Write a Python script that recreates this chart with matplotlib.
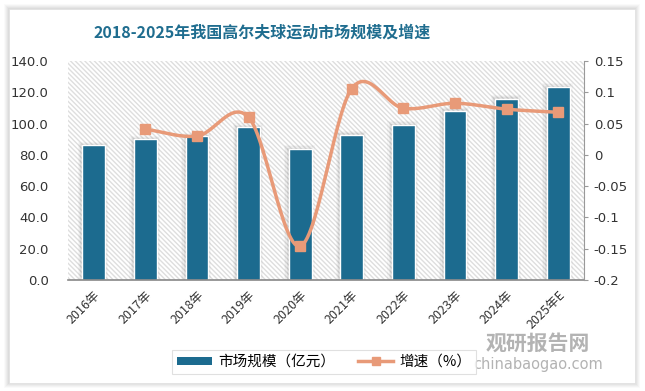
import numpy as np
import matplotlib
matplotlib.use("Agg")
import matplotlib.pyplot as plt
from matplotlib.patches import Rectangle
from matplotlib.lines import Line2D
from matplotlib.patches import Patch

plt.rcParams['font.family'] = ['Noto Sans CJK SC', 'DejaVu Sans']

categories = ['2016年', '2017年', '2018年', '2019年', '2020年', '2021年', '2022年', '2023年', '2024年', '2025年E']
market_size = [86.0, 90.0, 92.0, 98.0, 84.0, 93.0, 99.3, 108.3, 116.0, 123.6]
growth = [np.nan, 0.041, 0.030, 0.060, -0.146, 0.106, 0.0745, 0.0825, 0.073, 0.068]
left_ticks = [0, 20, 40, 60, 80, 100, 120, 140]
right_ticks = [-0.2, -0.15, -0.1, -0.05, 0, 0.05, 0.1, 0.15]
right_labels = ['-0.2', '-0.15', '-0.1', '-0.05', '0', '0.05', '0.1', '0.15']

W, H = 645, 391
fig = plt.figure(figsize=(W / 100, H / 100), dpi=100)
fig.patch.set_facecolor('white')

# card with soft shadow
for i, a in enumerate([0.04, 0.05, 0.06, 0.07, 0.08]):
    d = 5 - i
    fig.patches.append(Rectangle(((9 - d) / W, (8 - d) / H), (626 + 2 * d) / W, (374 + 2 * d) / H,
                                 transform=fig.transFigure, facecolor='#808080', alpha=a,
                                 edgecolor='none', zorder=0))
fig.patches.append(Rectangle((9 / W, 8 / H), 626 / W, 374 / H, transform=fig.transFigure,
                             facecolor='white', edgecolor='#e0e0e0', lw=0.5, zorder=0.5))

ax_l, ax_r, ax_t, ax_b = 68, 584, 61, 280
ax = fig.add_axes([ax_l / W, 1 - ax_b / H, (ax_r - ax_l) / W, (ax_b - ax_t) / H])
ax.set_zorder(1)
plt.rcParams['hatch.linewidth'] = 0.5
ax.patch.set_facecolor('white')
ax.patch.set_edgecolor('#dedede')
ax.patch.set_hatch('\\\\\\\\\\\\\\')
ax.patch.set_linewidth(0)

x = np.arange(len(categories))
bw = 0.44
# shadows
for xi, v in zip(x, market_size):
    for k, a in enumerate([0.04, 0.06, 0.09]):
        e = (3 - k) * 0.025
        ax.add_patch(Rectangle((xi - bw / 2 - e - 0.015, 0), bw + 2 * e, v + (3 - k) * 0.7,
                               facecolor='#555555', alpha=a, edgecolor='none', zorder=1))
ax.bar(x, market_size, width=bw, color='#1c6b8f', edgecolor='white', linewidth=1.0, zorder=2)

ax.set_xlim(-0.5, len(categories) - 0.5)
ax.set_ylim(0, 140)
ax.set_yticks(left_ticks)
ax.set_yticklabels([f'{t:.1f}' for t in left_ticks], fontsize=9.5, color='#333333', family='DejaVu Sans')
ax.set_xticks(x)
ax.set_xticklabels(categories, rotation=45, ha='right', va='top', rotation_mode='anchor',
                   fontsize=9, color='#333333')
ax.tick_params(axis='x', length=0, pad=6)
ax.tick_params(axis='y', length=0, pad=14)
for s in ['top', 'right', 'left']:
    ax.spines[s].set_visible(False)
ax.spines['bottom'].set_color('#888888')
ax.spines['bottom'].set_linewidth(1.2)

ax2 = ax.twinx()
ax2.set_ylim(-0.2, 0.15)
ax2.set_yticks(right_ticks)
ax2.set_yticklabels(right_labels, fontsize=9.5, color='#333333', family='DejaVu Sans')
for s in ['top', 'left', 'bottom']:
    ax2.spines[s].set_visible(False)
ax2.spines['right'].set_color('#999999')
ax2.tick_params(axis='y', direction='out', length=3, color='#999999', pad=4)

# smooth line (Catmull-Rom in display space)
gx = np.array([xi for xi, g in zip(x, growth) if not np.isnan(g)], dtype=float)
gy = np.array([g for g in growth if not np.isnan(g)], dtype=float)
fig.canvas.draw()
pts = ax2.transData.transform(np.column_stack([gx, gy]))
P = np.vstack([2 * pts[0] - pts[1], pts, 2 * pts[-1] - pts[-2]])
curve = []
for i in range(1, len(P) - 2):
    p0, p1, p2, p3 = P[i - 1], P[i], P[i + 1], P[i + 2]
    t = np.linspace(0, 1, 30)[:, None]
    seg = 0.5 * ((2 * p1) + (-p0 + p2) * t + (2 * p0 - 5 * p1 + 4 * p2 - p3) * t ** 2
                 + (-p0 + 3 * p1 - 3 * p2 + p3) * t ** 3)
    curve.append(seg)
curve = np.vstack(curve)
cdata = ax2.transData.inverted().transform(curve)
lc = '#e89a78'
ax2.plot(cdata[:, 0], cdata[:, 1], color=lc, lw=2.5, zorder=3, solid_capstyle='round')
ax2.plot(gx, gy, linestyle='none', marker='s', markersize=7, color=lc, zorder=4)

# title
fig.text(262 / W, 1 - 33 / H, '2018-2025年我国高尔夫球运动市场规模及增速', ha='center', va='center',
         fontsize=11.5, color='#1f6d8f', fontweight='bold')

# watermark (drawn beneath legend)
fig.text(538 / W, 1 - 343 / H, '观研报告网', ha='center', va='center', fontsize=15,
         color='#9a9a9a', fontweight='bold', alpha=0.75, zorder=1)
fig.text(538 / W, 1 - 364 / H, 'chinabaogao.com', ha='center', va='center', fontsize=10.5,
         color='#a0a0a0', alpha=0.8, family='DejaVu Sans', zorder=1)

# legend
handles = [Patch(facecolor='#1c6b8f', edgecolor='none'),
           Line2D([0], [0], color=lc, lw=2.5, marker='s', markersize=6)]
leg = fig.legend(handles, ['市场规模（亿元）', '增速（%）'], loc='center',
                 bbox_to_anchor=(324 / W, 1 - 362 / H), ncol=2, frameon=True, fontsize=10.5,
                 handlelength=2.4, handleheight=0.45, handletextpad=0.4, columnspacing=1.6,
                 fancybox=False, borderpad=0.35)
leg.get_frame().set_edgecolor('#d9d9d9')
leg.get_frame().set_linewidth(0.8)
leg.set_zorder(5)

fig.savefig('out.png', dpi=100)
